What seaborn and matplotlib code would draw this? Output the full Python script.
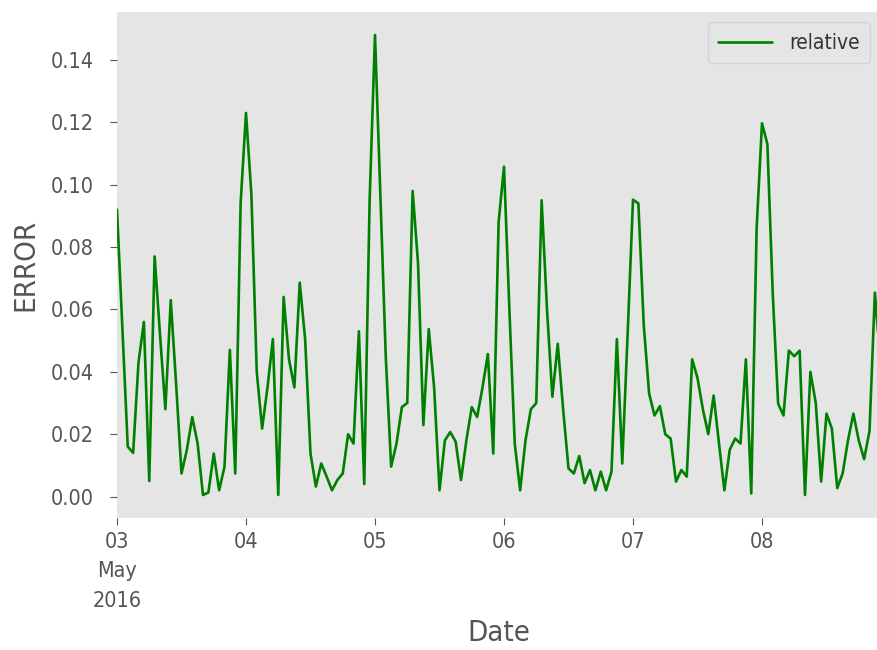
import numpy as np
import pandas as pd
import matplotlib
matplotlib.use("Agg")
import matplotlib.pyplot as plt
import seaborn as sns

start = "2016-05-03 00:00"
n_points = 143
relative = [
    0.092, 0.054, 0.016, 0.014, 0.043, 0.056, 0.005, 0.077, 0.052, 0.028,
    0.063, 0.036, 0.0074, 0.015, 0.0255, 0.017, 0.0005, 0.0013, 0.0138, 0.002,
    0.0096, 0.047, 0.0074, 0.094, 0.123, 0.097, 0.040, 0.0218, 0.035, 0.0505,
    0.0005, 0.064, 0.044, 0.035, 0.0686, 0.0505, 0.0138, 0.0032, 0.0106, 0.0064,
    0.002, 0.0053, 0.0074, 0.020, 0.017, 0.053, 0.004, 0.095, 0.148, 0.097,
    0.045, 0.0096, 0.017, 0.0287, 0.030, 0.098, 0.075, 0.0229, 0.0537, 0.035,
    0.002, 0.018, 0.0207, 0.0176, 0.0053, 0.018, 0.0287, 0.0255, 0.035, 0.0457,
    0.0138, 0.088, 0.1058, 0.060, 0.017, 0.002, 0.018, 0.028, 0.030, 0.095,
    0.060, 0.032, 0.049, 0.028, 0.009, 0.0074, 0.013, 0.0043, 0.0085, 0.002,
    0.008, 0.002, 0.008, 0.0505, 0.0106, 0.052, 0.0952, 0.094, 0.055, 0.033,
    0.026, 0.029, 0.020, 0.0186, 0.0048, 0.0085, 0.0064, 0.044, 0.038, 0.028,
    0.020, 0.0324, 0.017, 0.002, 0.015, 0.0186, 0.017, 0.044, 0.001, 0.086,
    0.1197, 0.113, 0.065, 0.0298, 0.026, 0.0468, 0.045, 0.0468, 0.0005, 0.040,
    0.030, 0.0048, 0.0266, 0.0218, 0.0027, 0.0074, 0.018, 0.0266, 0.018, 0.012,
    0.021, 0.0654, 0.0436,
]
series_name = "relative"
x_label = "Date"
y_label = "ERROR"
y_ticks = [0.00, 0.02, 0.04, 0.06, 0.08, 0.10, 0.12, 0.14]

dates = pd.date_range(start, periods=n_points, freq="h")
df = pd.DataFrame({"Date": dates, "relative": relative})

sns.set_theme(style="ticks")
plt.rcParams["font.family"] = ["DejaVu Sans"]
plt.rcParams["font.stretch"] = "condensed"

W, H = 878, 650
fig = plt.figure(figsize=(W / 100, H / 100), dpi=100)
ax = fig.add_axes([117 / W, 1 - 518 / H, (880.25 - 117) / W, (518 - 12) / H])
ax.set_facecolor("#E5E5E5")

sns.lineplot(data=df, x="Date", y="relative", ax=ax, color="green",
             linewidth=1.9, label=series_name)

ax.set_xlim(dates[0], dates[-1])
ymin, ymax = min(relative), max(relative)
pad = (ymax - ymin) * 0.05
ax.set_ylim(ymin - pad, ymax + pad)

day_ticks = pd.date_range(dates[0].normalize(), dates[-1], freq="D")
ax.set_xticks(day_ticks)
labels = []
for k, d in enumerate(day_ticks):
    if k == 0:
        labels.append(d.strftime("%d\n%b\n%Y"))
    else:
        labels.append(d.strftime("%d"))
ax.set_xticklabels(labels, linespacing=1.6)
ax.xaxis.set_minor_locator(matplotlib.ticker.NullLocator())

ax.set_yticks(y_ticks)
ax.set_yticklabels([f"{v:.2f}" for v in y_ticks])

for s in ax.spines.values():
    s.set_visible(False)
ax.grid(False)
ax.tick_params(axis="both", colors="#555555", labelsize=15.5, length=5, width=0.8)
ax.tick_params(axis="y", pad=12)
ax.tick_params(axis="x", pad=5)

ax.set_xlabel(x_label, fontsize=21, color="#555555", labelpad=6)
ax.set_ylabel(y_label, fontsize=21, color="#555555", labelpad=8)

leg = ax.legend(loc="upper right", fontsize=15, frameon=True, fancybox=True,
                handlelength=2.6, borderpad=0.5)
leg.get_frame().set_facecolor("#E5E5E5")
leg.get_frame().set_edgecolor("#D0D0D0")
for t in leg.get_texts():
    t.set_color("#333333")

fig.savefig("out.png", dpi=100)
